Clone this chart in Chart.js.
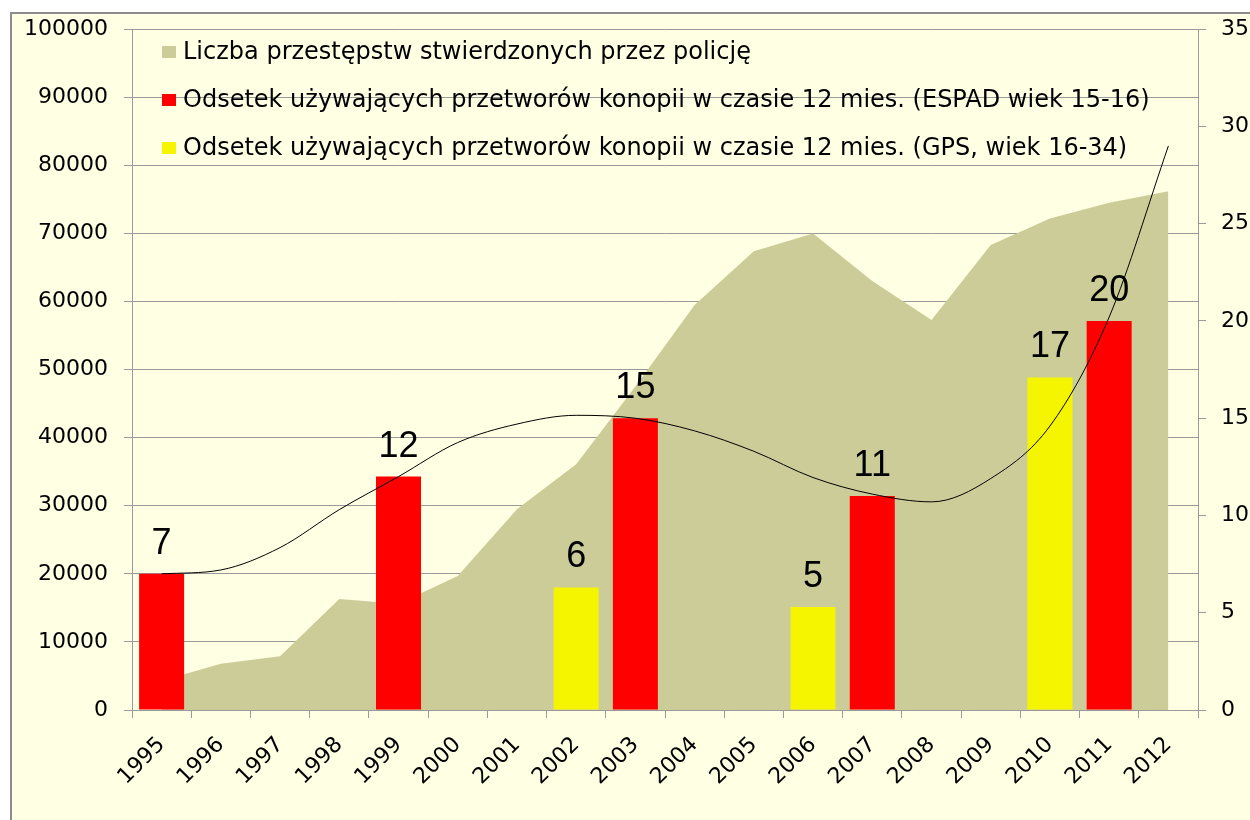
<!DOCTYPE html>
<html lang="pl">
<head>
  <meta charset="UTF-8" />
  <title>Konopie - przestępstwa i odsetek używających</title>
  <script src="https://cdn.jsdelivr.net/npm/chart.js"></script>
  <style>
    body { margin: 0; background: #ffffff; }
    #frame { position: absolute; left: 10px; top: 12px; width: 1250px; height: 820px;
             border-left: 2px solid #8c8c8c; border-top: 2px solid #8c8c8c; background: #FFFFE3; }
    #wrap { position: absolute; left: 0; top: 0; width: 1250px; height: 820px; }
  </style>
</head>
<body>
  <div id="frame"></div>
  <div id="wrap"><canvas id="chart"></canvas></div>

  <script>
    const years = ['1995', '1996', '1997', '1998', '1999', '2000', '2001', '2002', '2003',
                   '2004', '2005', '2006', '2007', '2008', '2009', '2010', '2011', '2012'];
    // liczba przestępstw (lewa oś)
    const crimes = [4300, 6800, 7900, 16300, 15600, 19700, 29500, 36100, 47500,
                    59500, 67400, 70000, 63000, 57300, 68300, 72200, 74500, 76200];
    // ESPAD 15-16 (prawa oś)
    const espad = [7, null, null, null, 12, null, null, null, 15,
                   null, null, null, 11, null, null, null, 20, null];
    // GPS 16-34 (prawa oś)
    const gps = [null, null, null, null, null, null, null, 6.3, null,
                 null, null, 5.3, null, null, null, 17.1, null, null];
    // linia trendu (prawa oś)
    const trend = [7.0, 7.2, 8.35, 10.3, 12.0, 13.75, 14.7, 15.15, 15.0,
                   14.35, 13.3, 11.95, 11.1, 10.7, 11.9, 14.6, 20.2, 29.0];
    const leftTicks = [0, 100000, 10000];
    const rightTicks = [0, 35, 5];

    const legendItems = [
      { color: '#CCCC99', text: 'Liczba przestępstw stwierdzonych przez policję' },
      { color: '#FF0000', text: 'Odsetek używających przetworów konopii w czasie 12 mies. (ESPAD wiek 15-16)' },
      { color: '#F5F500', text: 'Odsetek używających przetworów konopii w czasie 12 mies. (GPS, wiek 16-34)' }
    ];

    const FONT = '"DejaVu Sans", sans-serif';
    const LABEL_FONT = '"Liberation Sans", Arial, sans-serif';
    const gray = '#9a9a9a';

    const overlay = {
      id: 'overlay',
      afterDatasetsDraw(chart) {
        const ctx = chart.ctx;
        ctx.save();
        // wartości nad słupkami
        ctx.fillStyle = '#000';
        ctx.font = '36px ' + LABEL_FONT;
        ctx.textAlign = 'center';
        ctx.textBaseline = 'alphabetic';
        [1, 2].forEach(di => {
          const meta = chart.getDatasetMeta(di);
          meta.data.forEach((bar, i) => {
            const v = chart.data.datasets[di].data[i];
            if (v == null) return;
            ctx.fillText(String(Math.round(v)), bar.x, bar.y - 20);
          });
        });
        // legenda
        const x0 = chart.chartArea.left + 30;
        ctx.font = '24px ' + FONT;
        ctx.textAlign = 'left';
        ctx.textBaseline = 'middle';
        legendItems.forEach((it, k) => {
          const yc = 52 + k * 48;
          ctx.fillStyle = it.color;
          ctx.fillRect(x0, yc - 6, 14, 12);
          ctx.fillStyle = '#000';
          ctx.fillText(it.text, x0 + 21, yc + 1);
        });
        ctx.restore();
      }
    };

    new Chart(document.getElementById('chart'), {
      type: 'bar',
      data: {
        labels: years,
        datasets: [
          { type: 'line', label: legendItems[0].text, data: crimes, yAxisID: 'y',
            backgroundColor: '#CCCC99', borderWidth: 0, pointRadius: 0, fill: 'origin',
            tension: 0, order: 3 },
          { label: legendItems[1].text, data: espad, yAxisID: 'y2', backgroundColor: '#FF0000',
            grouped: false, barPercentage: 0.76, categoryPercentage: 1, order: 2 },
          { label: legendItems[2].text, data: gps, yAxisID: 'y2', backgroundColor: '#F5F500',
            grouped: false, barPercentage: 0.76, categoryPercentage: 1, order: 2 },
          { type: 'line', label: 'trend', data: trend, yAxisID: 'y2', borderColor: '#000',
            borderWidth: 1, pointRadius: 0, fill: false, cubicInterpolationMode: 'monotone', order: 1 }
        ]
      },
      options: {
        responsive: true,
        maintainAspectRatio: false,
        animation: false,
        layout: { padding: { top: 27, left: 0, right: 0, bottom: 0 } },
        plugins: { legend: { display: false }, tooltip: { enabled: false } },
        scales: {
          x: {
            grid: { drawOnChartArea: false, tickLength: 8, color: gray, offset: true },
            border: { color: gray },
            ticks: { color: '#000', font: { family: FONT, size: 22 }, maxRotation: 45, minRotation: 45,
                     autoSkip: false, padding: 14 },
            afterFit(s) { s.height = 110; }
          },
          y: {
            position: 'left', min: leftTicks[0], max: leftTicks[1],
            grid: { color: gray, tickLength: 8 },
            border: { color: gray },
            ticks: { stepSize: leftTicks[2], color: '#000', font: { family: FONT, size: 22 }, padding: 16,
                     callback: v => String(v) },
            afterFit(s) { s.width = 132; }
          },
          y2: {
            position: 'right', min: rightTicks[0], max: rightTicks[1],
            grid: { drawOnChartArea: false, color: gray, tickLength: 8 },
            border: { color: gray },
            ticks: { stepSize: rightTicks[2], color: '#000', font: { family: FONT, size: 22 }, padding: 15 },
            afterFit(s) { s.width = 52; }
          }
        }
      },
      plugins: [overlay]
    });
  </script>
</body>
</html>
